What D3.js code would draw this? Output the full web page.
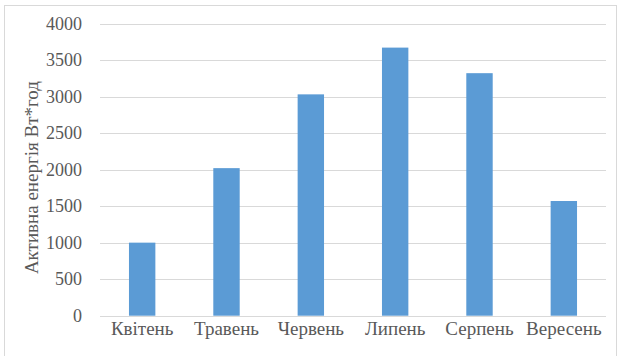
<!DOCTYPE html>
<html>
<head>
<meta charset="utf-8">
<script src="https://cdn.jsdelivr.net/npm/d3@7"></script>
<style>
  html, body { margin: 0; padding: 0; background: #fff; }
  svg { display: block; }
</style>
</head>
<body>
<svg id="chart" width="620" height="356"></svg>
<script>
// Monthly active energy, W·h
const months = ["Квітень", "Травень", "Червень", "Липень", "Серпень", "Вересень"];
const energy = [1000, 2020, 3030, 3670, 3320, 1570];
const yTicks = [0, 500, 1000, 1500, 2000, 2500, 3000, 3500, 4000];
const yTitle = "Активна енергія Вт*год";

const W = 620, H = 356;
const margin = { left: 100, right: 14, top: 23.5, bottom: 40.3 };
const SERIF = "'Liberation Serif', 'Times New Roman', 'DejaVu Serif', serif";
const INK = "#595959";

const svg = d3.select("#chart");

// outer chart frame
svg.append("rect")
  .attr("x", 4.5).attr("y", 5.5)
  .attr("width", 612).attr("height", 360)
  .attr("fill", "none").attr("stroke", "#d9d9d9").attr("stroke-width", 1);

const x = d3.scaleBand()
  .domain(months)
  .range([margin.left, W - margin.right])
  .paddingInner(0.687).paddingOuter(0.3435);

const y = d3.scaleLinear()
  .domain([0, 4000])
  .range([H - margin.bottom, margin.top]);

// horizontal gridlines
svg.append("g")
  .selectAll("line")
  .data(yTicks)
  .join("line")
  .attr("x1", margin.left).attr("x2", W - margin.right)
  .attr("y1", d => Math.round(y(d)) + 0.5).attr("y2", d => Math.round(y(d)) + 0.5)
  .attr("stroke", "#d9d9d9").attr("stroke-width", 1);

// bars
svg.append("g")
  .selectAll("rect")
  .data(months.map((m, i) => ({ m, v: energy[i] })))
  .join("rect")
  .attr("x", d => x(d.m))
  .attr("width", x.bandwidth())
  .attr("y", d => y(d.v))
  .attr("height", d => y(0) - y(d.v))
  .attr("fill", "#5b9bd5");

// y axis labels
const yAxis = d3.axisLeft(y).tickValues(yTicks).tickFormat(d3.format("d")).tickSize(0).tickPadding(0);
const gy = svg.append("g")
  .attr("transform", `translate(82,0)`)
  .call(yAxis)
  .attr("font-family", SERIF)
  .attr("font-size", 18);
gy.select(".domain").remove();
gy.selectAll("text")
  .style("font-family", SERIF)
  .style("font-size", "18px")
  .attr("fill", INK);

// x axis labels
const xAxis = d3.axisBottom(x).tickSize(0).tickPadding(0);
const gx = svg.append("g")
  .attr("transform", `translate(0,${H - margin.bottom + 6})`)
  .call(xAxis)
  .attr("font-family", SERIF)
  .attr("font-size", 19);
gx.select(".domain").remove();
gx.selectAll("text")
  .style("font-family", SERIF)
  .style("font-size", "19px")
  .attr("fill", INK);

// y axis title
svg.append("text")
  .attr("transform", `translate(38,${(y(0) + y(4000)) / 2 + 8}) rotate(-90)`)
  .attr("text-anchor", "middle")
  .style("font-family", SERIF)
  .style("font-size", "19px")
  .attr("fill", INK)
  .text(yTitle);
</script>
</body>
</html>
